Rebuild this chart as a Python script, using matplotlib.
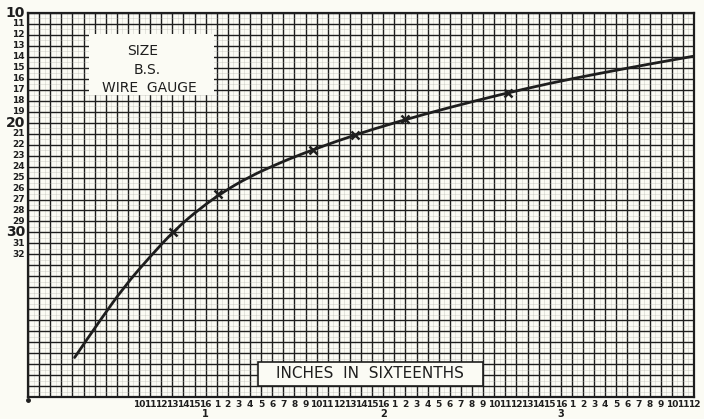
import matplotlib
matplotlib.use("Agg")
import matplotlib.pyplot as plt
import matplotlib.transforms as mtransforms
from matplotlib.patches import Rectangle, PathPatch
from matplotlib.path import Path

# Curve of wire gauge against coil length (x in sixteenths of an inch)
curve_x = [4.2, 6.5, 8.7, 11.0, 13.2, 15.5, 17.75, 20.0, 22.25, 24.5, 29.0, 33.5,
           38.0, 42.5, 47.0, 51.5, 56.0, 59.9]
curve_g = [41.4, 38.0, 34.9, 32.2, 29.8, 27.8, 26.2, 24.9, 23.85, 22.9, 21.25, 19.85,
           18.6, 17.45, 16.4, 15.5, 14.65, 13.95]

# Measured points marked with crosses
mark_x = [13.1, 17.1, 25.7, 29.5, 34.0, 43.2]
mark_g = [29.95, 26.5, 22.45, 21.1, 19.7, 17.3]

# Gauge labels on the left
gauge_ticks = list(range(10, 33))
gauge_big = [10, 20, 30]

# Sixteenths labels along the bottom
six_pos = list(range(10, 61))
six_labels = [str(((p - 1) % 16) + 1) for p in six_pos]
inch_pos = [16, 32, 48]
inch_labels = ["1", "2", "3"]

PAPER = "#fbfbf4"
INK = "#1e1e1e"

fig = plt.figure(figsize=(7.04, 4.19), dpi=100, facecolor=PAPER)
W, H = 704, 419
x0, x1, y0, y1 = 28, 694, 13, 397
ax = fig.add_axes([x0 / W, 1 - y1 / H, (x1 - x0) / W, (y1 - y0) / H])
ax.set_facecolor(PAPER)
ax.set_xlim(0, 60)
ax.set_ylim(45, 10)

# Graph-paper grid: strong lines every unit, faint ones between
for v in range(0, 61):
    ax.axvline(v, color=INK, lw=1.0, zorder=1)
for v in range(0, 60):
    ax.axvline(v + 0.5, color="#b0b0a8", lw=0.6, alpha=0.35, zorder=1)
for h in range(10, 46):
    ax.axhline(h, color=INK, lw=1.0, zorder=1)
for h in range(10, 45):
    ax.axhline(h + 0.5, color="#b0b0a8", lw=0.6, alpha=0.35, zorder=1)

for s in ax.spines.values():
    s.set_color(INK)
    s.set_linewidth(1.6)

# Title panel
ax.add_patch(Rectangle((5.5, 11.9), 11.3, 5.6, facecolor=PAPER, edgecolor="none", zorder=2))
title_font = dict(family=["DejaVu Sans"], fontsize=10, color=INK, ha="center",
                  va="center", zorder=3)
ax.text(10.3, 13.5, "SIZE", **title_font)
ax.text(10.7, 15.2, "B.S.", **title_font)
ax.text(10.9, 16.8, "WIRE  GAUGE", **title_font)

# Axis caption panel
ax.add_patch(Rectangle((20.7, 41.8), 20.3, 2.2, facecolor=PAPER, edgecolor=INK,
                       lw=1.2, zorder=2))
ax.text(30.85, 42.9, "INCHES  IN  SIXTEENTHS", family=["DejaVu Sans"], fontsize=11,
        color=INK, ha="center", va="center", zorder=3)

# Smooth curve: quadratic Bezier segments through the midpoints of the listed points
pts = list(zip(curve_x, curve_g))
verts = [pts[0], ((pts[0][0] + pts[1][0]) / 2, (pts[0][1] + pts[1][1]) / 2)]
codes = [Path.MOVETO, Path.LINETO]
for i in range(1, len(pts) - 1):
    mid = ((pts[i][0] + pts[i + 1][0]) / 2, (pts[i][1] + pts[i + 1][1]) / 2)
    verts += [pts[i], mid]
    codes += [Path.CURVE3, Path.CURVE3]
verts.append(pts[-1])
codes.append(Path.LINETO)
ax.add_patch(PathPatch(Path(verts, codes), facecolor="none", edgecolor=INK, lw=2.0,
                       capstyle="round", zorder=4))
ax.plot(mark_x, mark_g, ls="none", marker="x", ms=6, mew=1.8, color=INK, zorder=5)

ax.set_xticks([])
ax.set_yticks([])

narrow = ["Liberation Sans Narrow", "DejaVu Sans"]
ytr = mtransforms.blended_transform_factory(fig.transFigure, ax.transData)
for g in gauge_ticks:
    big = g in gauge_big
    fig.text(25 / W, g, str(g), transform=ytr, ha="right", va="center",
             family=narrow, fontweight="bold", fontsize=10 if big else 6.5, color=INK)

xtr = mtransforms.blended_transform_factory(ax.transData, fig.transFigure)
for p, lab in zip(six_pos, six_labels):
    fig.text(p, 1 - 404 / H, lab, transform=xtr, ha="center", va="center",
             family=narrow, fontweight="bold", fontsize=6.5, color=INK)
for p, lab in zip(inch_pos, inch_labels):
    fig.text(p, 1 - 414 / H, lab, transform=xtr, ha="center", va="center",
             family=narrow, fontweight="bold", fontsize=7, color=INK)

# Origin dot
ax.plot([0], [45.3], marker="o", ms=2.5, color=INK, clip_on=False, zorder=6)

fig.savefig("out.png", dpi=100, facecolor=PAPER)
